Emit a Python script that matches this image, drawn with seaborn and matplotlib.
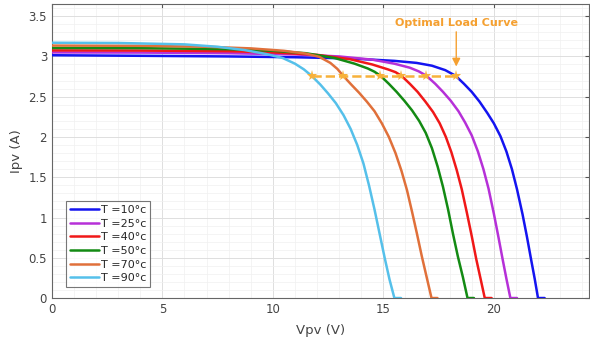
import numpy as np
import pandas as pd
import matplotlib
matplotlib.use("Agg")
import matplotlib.pyplot as plt
import seaborn as sns
from matplotlib.ticker import MultipleLocator

# I-V curves, one pair of lists per temperature
v_10 = [0, 4, 8, 11, 13.5, 15.5, 16.5, 17.2, 17.8, 18.27, 18.65, 19.0, 19.35, 19.7, 20.0,
        20.3, 20.57, 20.82, 21.05, 21.3, 21.5, 21.7, 21.85, 22.0, 22.3]
i_10 = [3.015, 3.008, 3.0, 2.99, 2.975, 2.945, 2.92, 2.885, 2.83, 2.76, 2.66, 2.56, 2.44, 2.3, 2.17,
        2.01, 1.82, 1.6, 1.35, 1.04, 0.76, 0.46, 0.24, 0.0, 0.0]

v_25 = [0, 4, 8, 11, 13, 14.5, 15.5, 16.2, 16.6, 16.95, 17.35, 17.7, 18.05, 18.4, 18.7,
        19.0, 19.28, 19.53, 19.76, 20.0, 20.2, 20.4, 20.57, 20.75, 21.05]
i_25 = [3.05, 3.048, 3.04, 3.025, 3.0, 2.96, 2.91, 2.86, 2.815, 2.76, 2.66, 2.56, 2.45, 2.32, 2.18,
        2.02, 1.82, 1.6, 1.36, 1.05, 0.77, 0.48, 0.24, 0.0, 0.0]

v_40 = [0, 4, 8, 10, 12, 13.5, 14.5, 15.2, 15.55, 15.82, 16.2, 16.55, 16.9, 17.25, 17.55,
        17.83, 18.08, 18.32, 18.55, 18.78, 19.0, 19.2, 19.4, 19.59, 19.9]
i_40 = [3.075, 3.073, 3.065, 3.05, 3.02, 2.965, 2.9, 2.84, 2.805, 2.76, 2.66, 2.56, 2.44, 2.31, 2.17,
        2.0, 1.81, 1.59, 1.35, 1.06, 0.77, 0.49, 0.24, 0.0, 0.0]

v_50 = [0, 4, 8, 10, 11.5, 12.8, 13.7, 14.3, 14.6, 14.87, 15.25, 15.6, 15.95, 16.3, 16.62,
        16.92, 17.2, 17.46, 17.7, 17.93, 18.15, 18.37, 18.6, 18.81, 19.1]
i_50 = [3.105, 3.103, 3.09, 3.07, 3.04, 2.98, 2.91, 2.85, 2.81, 2.76, 2.66, 2.56, 2.45, 2.33, 2.2,
        2.05, 1.86, 1.63, 1.38, 1.1, 0.8, 0.52, 0.26, 0.0, 0.0]

v_70 = [0, 4, 7, 9, 10.5, 11.5, 12.1, 12.6, 12.92, 13.18, 13.55, 13.9, 14.25, 14.6, 14.93,
        15.25, 15.55, 15.82, 16.07, 16.3, 16.52, 16.74, 16.96, 17.18, 17.45]
i_70 = [3.135, 3.132, 3.12, 3.1, 3.07, 3.035, 2.995, 2.92, 2.845, 2.76, 2.65, 2.55, 2.44, 2.32, 2.17,
        2.0, 1.8, 1.58, 1.34, 1.07, 0.8, 0.52, 0.26, 0.0, 0.0]

v_90 = [0, 3, 6, 7.5, 8.7, 9.7, 10.45, 11.0, 11.4, 11.75, 12.15, 12.5, 12.85, 13.2, 13.52,
        13.82, 14.1, 14.35, 14.6, 14.83, 15.06, 15.28, 15.5, 15.8]
i_90 = [3.17, 3.167, 3.15, 3.12, 3.08, 3.03, 2.98, 2.91, 2.84, 2.76, 2.65, 2.54, 2.42, 2.27, 2.1,
        1.9, 1.67, 1.4, 1.1, 0.8, 0.5, 0.23, 0.0, 0.0]

labels = ["T =10°c", "T =25°c", "T =40°c", "T =50°c", "T =70°c", "T =90°c"]
colors = ["#1414f0", "#b630d8", "#f01818", "#138a13", "#e0703a", "#55c0ea"]

# maximum power points (optimal load curve)
mpp_v = [11.75, 13.18, 14.87, 15.82, 16.95, 18.27]
mpp_i = [2.76, 2.76, 2.76, 2.76, 2.76, 2.76]

curves = [(v_10, i_10), (v_25, i_25), (v_40, i_40), (v_50, i_50), (v_70, i_70), (v_90, i_90)]
df = pd.concat(
    [pd.DataFrame({"V": v, "I": i, "T": lab}) for (v, i), lab in zip(curves, labels)],
    ignore_index=True,
)
load_df = pd.DataFrame({"V": mpp_v, "I": mpp_i})

sns.set_style("white")
plt.rcParams["font.family"] = ["DejaVu Sans"]

fig = plt.figure(figsize=(5.9, 3.41), dpi=100)
ax = fig.add_axes([0.088, 0.126, 0.91, 0.862])

sns.lineplot(data=df, x="V", y="I", hue="T", palette=colors, hue_order=labels,
             sort=False, estimator=None, linewidth=1.8, ax=ax, zorder=3)

sns.lineplot(data=load_df, x="V", y="I", color="#f7b13a", linestyle="--",
             linewidth=1.8, marker="*", markersize=8, markeredgewidth=0,
             sort=False, estimator=None, ax=ax, zorder=4, legend=False)

ax.annotate("", xy=(18.3, 2.84), xytext=(18.3, 3.34),
            arrowprops=dict(arrowstyle="-|>", color="#f5a030", lw=1.0,
                            mutation_scale=12), zorder=5)
ax.text(18.3, 3.42, "Optimal Load Curve", color="#f5a030", fontsize=8,
        fontweight="bold", ha="center", va="center")

ax.set_xlim(0, 24.3)
ax.set_ylim(0, 3.65)
ax.xaxis.set_major_locator(MultipleLocator(5))
ax.xaxis.set_minor_locator(MultipleLocator(1))
ax.yaxis.set_minor_locator(MultipleLocator(0.1))
ax.set_yticks([0, 0.5, 1, 1.5, 2, 2.5, 3, 3.5])
ax.set_yticklabels(["0", "0.5", "1", "1.5", "2", "2.5", "3", "3.5"])
ax.grid(which="major", color="#dedede", linewidth=0.7, zorder=0)
ax.grid(which="minor", color="#f0f0f0", linewidth=0.5, zorder=0)
ax.set_axisbelow(True)
ax.tick_params(which="both", direction="in", top=True, right=True,
               colors="#555555", labelcolor="#444444", labelsize=8.5)
ax.tick_params(which="major", length=3)
ax.tick_params(which="minor", length=0)
for s in ax.spines.values():
    s.set_color("#666666")
    s.set_linewidth(0.8)

ax.set_xlabel("Vpv (V)", fontsize=9.5, color="#444444", labelpad=6)
ax.set_ylabel("Ipv (A)", fontsize=9.5, color="#444444", labelpad=4)

leg = ax.legend(loc="lower left", bbox_to_anchor=(0.026, 0.037), borderaxespad=0,
                fontsize=8, labelspacing=0.33, handlelength=2.6, handletextpad=0.2,
                borderpad=0.35, frameon=True, fancybox=False)
leg.get_frame().set_edgecolor("#555555")
leg.get_frame().set_linewidth(0.8)
for line in leg.get_lines():
    line.set_linewidth(1.8)

fig.savefig("out.png", dpi=100)
